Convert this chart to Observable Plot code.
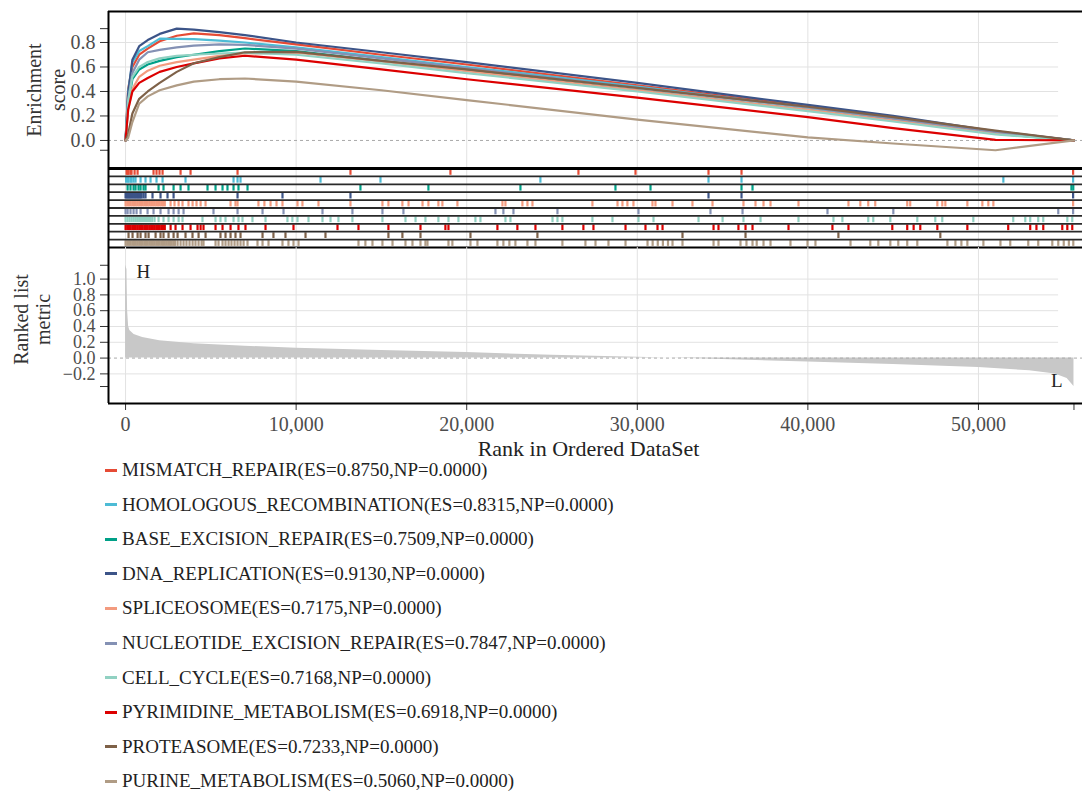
<!DOCTYPE html>
<html><head><meta charset="utf-8">
<script src="https://cdn.jsdelivr.net/npm/d3@7"></script>
<script src="https://cdn.jsdelivr.net/npm/@observablehq/plot@0.6"></script>
<style>
html,body{margin:0;padding:0;background:#fff;overflow:hidden;}
#root{position:relative;width:1082px;height:792px;font-family:"Liberation Serif","Times New Roman",serif;}
.panel{position:absolute;left:0;}
.panel text{font-family:"Liberation Serif","Times New Roman",serif;}
.legend{position:absolute;left:105px;top:453px;}
.lg-row{height:34.56px;display:flex;align-items:center;font-size:19px;color:#222;white-space:nowrap;}
.lg-dash{width:12px;height:3px;margin-right:5px;}
</style></head><body><div id="root"></div>
<script>
// ---------- DATA ----------
const setNames = ["MISMATCH_REPAIR","HOMOLOGOUS_RECOMBINATION","BASE_EXCISION_REPAIR","DNA_REPLICATION","SPLICEOSOME","NUCLEOTIDE_EXCISION_REPAIR","CELL_CYCLE","PYRIMIDINE_METABOLISM","PROTEASOME","PURINE_METABOLISM"];
const setES = [0.8750,0.8315,0.7509,0.9130,0.7175,0.7847,0.7168,0.6918,0.7233,0.5060];
const setNP = [0,0,0,0,0,0,0,0,0,0];
const setColors = ["#E64B35","#4DBBD5","#00A087","#3C5488","#F39B7F","#8491B4","#91D1C2","#DC0000","#7E6148","#B09C85"];

// running enrichment score, read at these ranks
const curveRanks = [0,150,400,800,1300,2000,3000,4000,5500,7000,10000,15000,20000,30000,40000,45000,51000,55600];
const esMismatch    = [0,0.42,0.60,0.70,0.75,0.81,0.855,0.875,0.86,0.835,0.785,0.70,0.62,0.45,0.28,0.19,0.07,0];
const esHomologous  = [0,0.40,0.64,0.73,0.77,0.8315,0.83,0.828,0.815,0.80,0.76,0.68,0.60,0.44,0.27,0.18,0.065,0];
const esBaseExc     = [0,0.30,0.50,0.58,0.62,0.65,0.68,0.70,0.73,0.7509,0.73,0.65,0.57,0.41,0.25,0.165,0.055,0];
const esDnaRep      = [0,0.38,0.66,0.77,0.82,0.87,0.913,0.905,0.885,0.86,0.80,0.72,0.64,0.47,0.29,0.20,0.075,0];
const esSpliceosome = [0,0.25,0.42,0.52,0.57,0.61,0.64,0.66,0.69,0.71,0.7175,0.645,0.565,0.41,0.25,0.165,0.06,0];
const esNucleotide  = [0,0.33,0.55,0.66,0.72,0.74,0.76,0.775,0.7847,0.78,0.75,0.67,0.59,0.43,0.27,0.18,0.07,0];
const esCellCycle   = [0,0.32,0.52,0.60,0.64,0.67,0.69,0.70,0.71,0.7168,0.70,0.63,0.55,0.40,0.24,0.155,0.05,0];
const esPyrimidine  = [0,0.25,0.40,0.47,0.51,0.56,0.60,0.63,0.67,0.6918,0.66,0.58,0.50,0.35,0.19,0.10,0.005,0];
const esProteasome  = [0,0.05,0.22,0.34,0.40,0.47,0.56,0.63,0.68,0.72,0.7233,0.65,0.58,0.43,0.275,0.19,0.08,0];
const esPurine      = [0,0.02,0.15,0.30,0.36,0.41,0.45,0.48,0.50,0.506,0.48,0.41,0.33,0.17,0.025,-0.025,-0.08,0];
const esCurves = [esMismatch,esHomologous,esBaseExc,esDnaRep,esSpliceosome,esNucleotide,esCellCycle,esPyrimidine,esProteasome,esPurine];

// gene hit ranks per set
const hitsMismatch = [60,120,175,290,350,530,705,1640,1815,1990,2170,3225,3810,6565,13185,19045,26550,29895,34175,36110,55550];
const hitsHomologous = [30,120,175,290,350,470,585,880,1170,1465,1815,2170,3515,6330,6565,6740,11430,14945,24320,34175,36110,51460,55550];
const hitsBaseExc = [120,290,470,585,760,880,1055,1170,1935,2225,2815,3225,3690,4805,5275,5685,5975,6330,6620,7150,13770,17755,23150,28720,30775,36110,36755,55450,55560];
const hitsDnaRep = [0,60,120,175,235,290,350,410,470,530,585,645,705,760,820,880,940,1055,1170,1580,2050,2460,2815,6565,9200,13185,34175,36110,55550];
const hitsSpliceosome = [0,100,200,300,400,500,600,700,800,900,1000,1100,1200,1300,1400,1500,1600,1700,1800,1900,2000,2100,2200,2300,2640,2870,3110,3340,3690,3930,4160,4400,4690,6155,6445,6565,7790,8140,8500,8850,9200,10080,10370,11310,13185,15060,15410,16230,16590,17410,17755,18340,18575,19455,22095,22270,23265,23560,23855,27370,28840,29130,29420,29775,30890,31065,32065,33235,34410,36225,36930,37400,37810,39450,42380,43075,43540,43950,45825,46000,47590,47880,48060,49350,50230,50580,50875,55550];
const hitsNucleotide = [0,120,290,470,645,880,1290,1640,2050,2520,2815,3110,3400,5155,6565,8030,9260,11545,13300,15060,16290,21685,22150,22740,25320,30070,34290,36170,41150,45010,54680,55550];
const hitsCellCycle = [0,120,240,360,480,600,720,840,960,1080,1200,1320,1440,1560,1700,1935,2225,2520,2815,3110,3340,4510,5275,5565,5860,6330,6620,6855,7440,8205,9490,9780,10080,10725,11545,12015,12480,13300,15060,16410,17000,17580,18340,18930,19515,20510,20805,22270,22565,25030,25320,25610,27370,28545,30070,30950,33590,35000,36225,37225,39450,41500,42025,43540,43835,44835,46415,47470,47880,49700,52040,52745,53035,53505,53800,55210,55500];
const hitsPyrimidine = [0,100,200,300,400,500,600,700,800,900,1000,1100,1200,1300,1400,1500,1600,1700,1800,1900,2000,2100,2200,2300,2640,2930,3340,3810,4220,4400,4570,5275,5685,6155,6620,7030,8205,9845,12425,13655,15410,17290,18750,18930,21800,22970,24030,25610,26840,27430,29310,30480,31185,31480,34470,34760,35930,36345,36755,38865,41440,42380,44950,45825,46200,46590,47590,49350,51745,53035,53400,53800,54915,55210,55500];
const hitsProteasome = [175,410,705,880,1170,1350,1760,2050,2225,2520,2815,3050,3515,3925,4280,4690,5565,5860,6155,6445,6740,8030,8670,9375,10550,11720,15410,16230,17290,20220,24145,32650,36345,41790,47765];
const hitsPurine = [0,100,200,300,400,500,600,700,800,900,1000,1100,1200,1300,1400,1500,1600,1700,1800,1900,2000,2100,2200,2300,2400,2500,2600,2700,2800,2900,3050,3225,3400,3570,3750,3930,4100,4280,4460,4570,5275,5450,5685,5860,6040,6210,6390,6565,6740,6920,7150,7735,8030,8380,9200,9550,9845,10140,13655,14060,14475,15060,15650,16410,16820,17290,17580,17700,18930,19160,20220,20630,21800,22150,22500,22855,23560,24030,25610,26960,27550,28310,29310,30600,30900,31200,31500,31800,32065,32650,34470,34760,36050,36400,36755,37000,37400,37810,38980,39980,40445,42500,43660,44130,44835,45300,45825,46415,48180,48650,49000,49350,50290,51290,51865,52920,53505,54330,54680,55000,55300,55560];
const hitLists = [hitsMismatch,hitsHomologous,hitsBaseExc,hitsDnaRep,hitsSpliceosome,hitsNucleotide,hitsCellCycle,hitsPyrimidine,hitsProteasome,hitsPurine];

// ranked list metric
const metricRanks  = [0,80,120,180,250,500,1000,2000,4000,7000,10000,15000,20000,25000,30000,33000,40000,45000,50000,53000,54500,55200,55600];
const metricValues = [1.175,1.12,0.60,0.40,0.35,0.30,0.26,0.22,0.18,0.15,0.125,0.095,0.07,0.035,0.01,-0.005,-0.05,-0.08,-0.12,-0.16,-0.20,-0.26,-0.36];

// tick labels
const xTickLabels = [0,10000,20000,30000,40000,50000];
const esTickLabels = [0,0.2,0.4,0.6,0.8];
const metricTickLabels = [-0.2,0,0.2,0.4,0.6,0.8,1.0];

// ---------- TABLES ----------
const esTable = setNames.flatMap((s,i) => curveRanks.map((r,j) => ({set:s, rank:r, es:esCurves[i][j]})));
const hitTable = setNames.flatMap((s,i) => hitLists[i].map(r => ({set:s, row:i, rank:r})));
const metricTable = metricRanks.map((r,i) => ({rank:r, value:metricValues[i]}));
const maxRank = d3.max(metricRanks);

// ---------- LAYOUT ----------
const X_DOMAIN = [-1000, 56100];
const ES_DOMAIN = [-0.229, 1.053];
const M_DOMAIN = [-0.575, 1.4];
const GRID_END = 54700;
const FONT = '"Liberation Serif","Times New Roman",serif';
const baseStyle = {fontFamily: FONT, fontSize: "19px", color: "#4d4d4d", background: "transparent", overflow: "visible"};
const colorScale = {domain: setNames, range: setColors};
const fmt1 = d3.format(".1f");
const gridColor = "#e2e2e2";

const root = document.getElementById("root");
function place(svg, top){ svg.classList.add("panel"); svg.style.top = top + "px"; root.appendChild(svg); }

// Panel 1: running enrichment score
const esExtent = d3.extent(esTable, d => d.es);
const p1 = Plot.plot({
  width: 1082, height: 168, marginTop: 11, marginBottom: 0, marginLeft: 108, marginRight: 0,
  style: baseStyle,
  x: {domain: X_DOMAIN, axis: null},
  y: {domain: ES_DOMAIN, axis: null},
  color: colorScale,
  marks: [
    Plot.ruleX(xTickLabels, {stroke: gridColor}),
    Plot.ruleY(esTickLabels.filter(d => d !== 0), {x1: X_DOMAIN[0], x2: GRID_END, stroke: gridColor}),
    Plot.ruleY([0], {stroke: "#aaa", strokeDasharray: "3,3"}),
    Plot.line(esTable, {x: "rank", y: "es", z: "set", stroke: "set", strokeWidth: 2.2}),
    Plot.axisY({ticks: [...esTickLabels, ...esExtent], tickFormat: d => esTickLabels.includes(d) ? fmt1(d) : "", tickSize: 8, tickPadding: 5, label: null, stroke: "#333", fontFamily: FONT, fontSize: 20}),
    Plot.text(["Enrichment\nscore"], {frameAnchor: "left", textAnchor: "middle", rotate: -90, dx: -63, fontSize: 20, lineHeight: 1.2, fill: "#333", fontFamily: FONT}),
    Plot.ruleX([X_DOMAIN[0]], {stroke: "#000", strokeWidth: 2}),
    Plot.ruleY([ES_DOMAIN[1]], {stroke: "#000", strokeWidth: 2})
  ]
});
place(p1, 0);

// Panel 2: hit rug
const p2 = Plot.plot({
  width: 1082, height: 85, marginTop: 3, marginBottom: 3, marginLeft: 108, marginRight: 0,
  style: baseStyle,
  x: {domain: X_DOMAIN, axis: null},
  y: {domain: [0, setNames.length], reverse: true, axis: null},
  color: colorScale,
  marks: [
    Plot.ruleX(xTickLabels, {stroke: gridColor}),
    Plot.ruleX(hitTable, {x: "rank", y1: d => d.row + 0.14, y2: d => d.row + 0.86, stroke: "set", strokeWidth: 2.2}),
    Plot.ruleY(d3.range(1, setNames.length), {stroke: "#2a2a2a", strokeWidth: 1.8}),
    Plot.ruleY([0], {stroke: "#000", strokeWidth: 3}),
    Plot.ruleY([setNames.length], {stroke: "#000", strokeWidth: 2}),
    Plot.ruleX([X_DOMAIN[0]], {stroke: "#000", strokeWidth: 2})
  ]
});
place(p2, 165);

// Panel 3: ranked list metric
const mExtent = d3.extent(metricValues);
const p3 = Plot.plot({
  width: 1082, height: 213, marginTop: 0, marginBottom: 57, marginLeft: 108, marginRight: 0,
  style: baseStyle,
  x: {domain: X_DOMAIN},
  y: {domain: M_DOMAIN},
  marks: [
    Plot.ruleX(xTickLabels, {stroke: gridColor}),
    Plot.ruleY(metricTickLabels.filter(d => d !== 0), {x1: X_DOMAIN[0], x2: GRID_END, stroke: gridColor}),
    Plot.areaY(metricTable, {x: "rank", y: "value", fill: "#c8c8c8"}),
    Plot.ruleY([0], {stroke: "#aaa", strokeDasharray: "3,3"}),
    Plot.axisY({ticks: [...metricTickLabels, ...mExtent], tickFormat: d => metricTickLabels.includes(d) ? fmt1(d) : "", tickSize: 8, tickPadding: 5, label: null, stroke: "#333", fontFamily: FONT, fontSize: 18}),
    Plot.axisX({ticks: [...xTickLabels, maxRank], tickFormat: d => xTickLabels.includes(d) ? d3.format(",")(d) : "", tickSize: 7, tickPadding: 6, label: null, stroke: "#333", fontFamily: FONT, fontSize: 20}),
    Plot.text(["Ranked list\nmetric"], {frameAnchor: "left", textAnchor: "middle", rotate: -90, dx: -77, dy: -6, fontSize: 20, lineHeight: 1.1, fill: "#333", fontFamily: FONT}),
    Plot.text(["Rank in Ordered DataSet"], {frameAnchor: "bottom", dx: -7, dy: 52, fontSize: 22, fill: "#222", fontFamily: FONT}),
    Plot.text(["H"], {frameAnchor: "top-left", dx: 28, dy: 17, fontSize: 19, fill: "#222", fontFamily: FONT}),
    Plot.text(["L"], {frameAnchor: "bottom-right", dx: -20, dy: -17, fontSize: 19, fill: "#222", fontFamily: FONT}),
    Plot.ruleX([X_DOMAIN[0]], {stroke: "#000", strokeWidth: 2}),
    Plot.ruleY([M_DOMAIN[0]], {stroke: "#000", strokeWidth: 2})
  ]
});
place(p3, 247);

// Legend
const legend = document.createElement("div");
legend.className = "legend";
setNames.forEach((s, i) => {
  const row = document.createElement("div");
  row.className = "lg-row";
  const dash = document.createElement("span");
  dash.className = "lg-dash";
  dash.style.background = setColors[i];
  const txt = document.createElement("span");
  txt.textContent = `${s}(ES=${setES[i].toFixed(4)},NP=${setNP[i].toFixed(4)})`;
  row.appendChild(dash); row.appendChild(txt);
  legend.appendChild(row);
});
root.appendChild(legend);
</script></body></html>
